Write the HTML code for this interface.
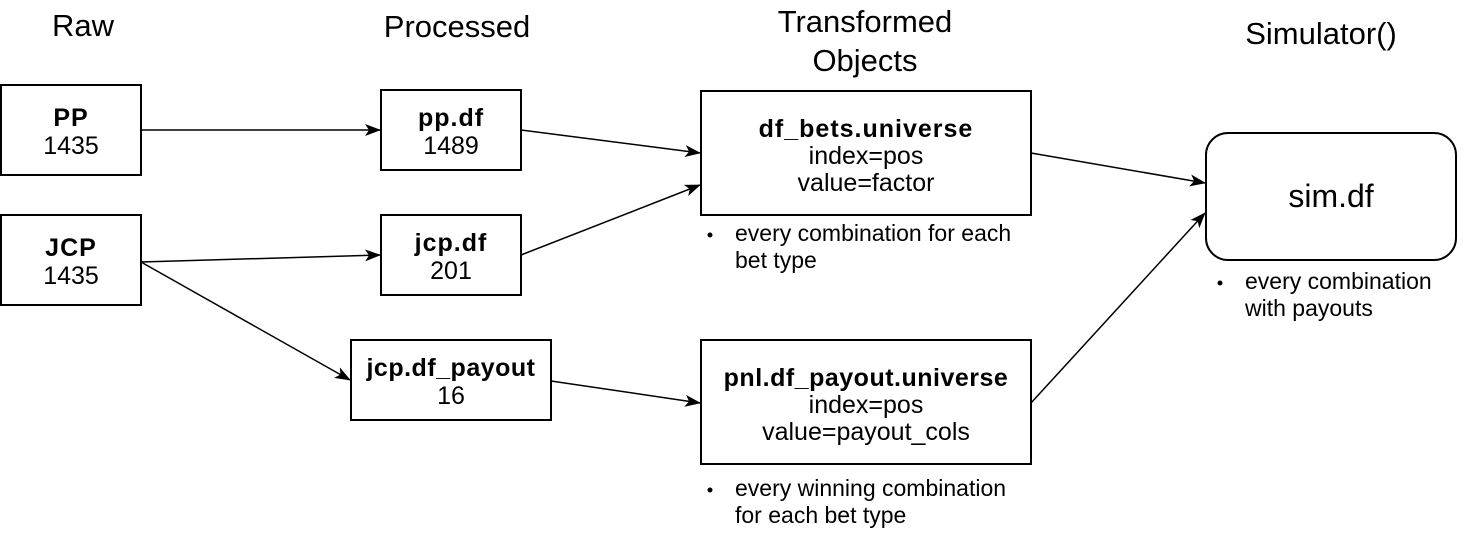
<!DOCTYPE html>
<html><head><meta charset="utf-8"><style>
html,body{margin:0;padding:0;background:#fff;}
svg{display:block;font-family:"Liberation Sans",Arial,sans-serif;}
</style></head><body>
<svg width="1482" height="550" viewBox="0 0 1482 550" xmlns="http://www.w3.org/2000/svg">
<defs><marker id="a" markerWidth="16" markerHeight="12" refX="15" refY="6" orient="auto" markerUnits="userSpaceOnUse"><path d="M0,0 L16,6 L0,12 L4,6 z" fill="#000"/></marker></defs>
<g font-size="31" text-anchor="middle" fill="#000">
<text x="83" y="36">Raw</text>
<text x="457" y="37">Processed</text>
<text x="865" y="32">Transformed</text>
<text x="865" y="71">Objects</text>
<text x="1321" y="44">Simulator()</text>
</g>
<g fill="#fff" stroke="#000" stroke-width="2">
<rect x="1" y="85" width="140" height="90"/>
<rect x="1" y="215" width="140" height="90"/>
<rect x="381" y="90" width="140" height="80"/>
<rect x="381" y="215" width="140" height="80"/>
<rect x="351" y="340" width="200" height="80"/>
<rect x="701" y="91" width="330" height="124"/>
<rect x="701" y="340" width="330" height="124"/>
<rect x="1206" y="133" width="250" height="127" rx="22"/>
</g>
<g font-size="25" text-anchor="middle" fill="#000">
<text x="71" y="126" font-weight="bold" letter-spacing="1">PP</text><text x="71" y="154">1435</text>
<text x="71" y="256" font-weight="bold" letter-spacing="1">JCP</text><text x="71" y="284">1435</text>
<text x="451" y="126" font-weight="bold" letter-spacing="1">pp.df</text><text x="451" y="154">1489</text>
<text x="451" y="251" font-weight="bold" letter-spacing="1">jcp.df</text><text x="451" y="279">201</text>
<text x="451" y="376" font-weight="bold" letter-spacing="0.5">jcp.df_payout</text><text x="451" y="404">16</text>
<text x="866" y="137" font-weight="bold" letter-spacing="1">df_bets.universe</text><text x="866" y="164">index=pos</text><text x="866" y="191">value=factor</text>
<text x="866" y="386" font-weight="bold" letter-spacing="0.5">pnl.df_payout.universe</text><text x="866" y="413">index=pos</text><text x="866" y="440">value=payout_cols</text>
<text x="1331" y="207" font-size="32">sim.df</text>
</g>
<g font-size="23" fill="#000">
<circle cx="710" cy="235" r="2.5"/><text x="735" y="241">every combination for each</text><text x="735" y="268">bet type</text>
<circle cx="710" cy="490" r="2.5"/><text x="735" y="496">every winning combination</text><text x="735" y="523">for each bet type</text>
<circle cx="1220" cy="283" r="2.5"/><text x="1245" y="289">every combination</text><text x="1245" y="316">with payouts</text>
</g>
<g stroke="#000" stroke-width="1.5" marker-end="url(#a)">
<line x1="141" y1="130" x2="380" y2="130"/>
<line x1="521" y1="130" x2="700" y2="153"/>
<line x1="521" y1="255" x2="700" y2="185"/>
<line x1="141" y1="262" x2="380" y2="255"/>
<line x1="141" y1="262" x2="350" y2="380"/>
<line x1="551" y1="381" x2="700" y2="403"/>
<line x1="1031" y1="153" x2="1205" y2="183"/>
<line x1="1031" y1="403" x2="1205" y2="213"/>
</g>
</svg>
</body></html>
